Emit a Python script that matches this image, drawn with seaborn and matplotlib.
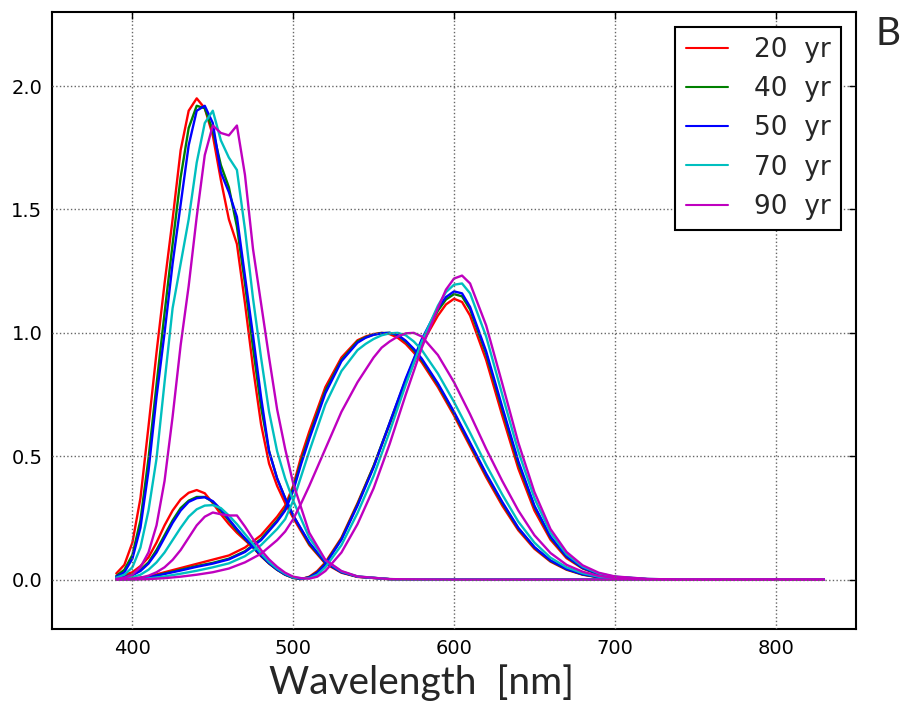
import numpy as np
import pandas as pd
import matplotlib
matplotlib.use("Agg")
import matplotlib.pyplot as plt
from matplotlib.lines import Line2D
import seaborn as sns

# -----------------------------------------------
# Data: colour matching functions, one set per age
# -----------------------------------------------
ages = ["20  yr", "40  yr", "50  yr", "70  yr", "90  yr"]
colors = ["#ff0000", "#008000", "#0000ff", "#00bfbf", "#bf00bf"]

# z-bar (large short-wave peak)
wl_z = [390, 395, 400, 405, 410, 415, 420, 425, 430, 435, 440, 445, 450, 455, 460,
        465, 470, 475, 480, 485, 490, 495, 500, 510, 520, 530, 540, 560, 600, 830]
z_20 = [0.025, 0.06, 0.15, 0.33, 0.62, 0.92, 1.2, 1.46, 1.74, 1.9, 1.95, 1.91, 1.8, 1.62, 1.46,
        1.36, 1.12, 0.86, 0.63, 0.47, 0.38, 0.31, 0.25, 0.14, 0.065, 0.028, 0.011, 0.002, 0, 0]
z_40 = [0.015, 0.04, 0.1, 0.24, 0.49, 0.79, 1.08, 1.36, 1.63, 1.83, 1.92, 1.91, 1.82, 1.68, 1.59,
        1.43, 1.2, 0.94, 0.7, 0.52, 0.41, 0.33, 0.26, 0.145, 0.068, 0.03, 0.012, 0.002, 0, 0]
z_50 = [0.012, 0.03, 0.085, 0.21, 0.44, 0.74, 1.0, 1.28, 1.52, 1.76, 1.9, 1.92, 1.85, 1.65, 1.57,
        1.47, 1.23, 0.99, 0.74, 0.52, 0.41, 0.33, 0.26, 0.15, 0.07, 0.03, 0.012, 0.002, 0, 0]
z_70 = [0.008, 0.02, 0.05, 0.13, 0.28, 0.49, 0.8, 1.1, 1.28, 1.46, 1.69, 1.85, 1.9, 1.78, 1.71,
        1.66, 1.42, 1.14, 0.9, 0.68, 0.52, 0.41, 0.32, 0.17, 0.078, 0.033, 0.013, 0.002, 0, 0]
z_90 = [0.003, 0.008, 0.02, 0.05, 0.11, 0.22, 0.4, 0.66, 0.95, 1.19, 1.47, 1.72, 1.84, 1.81, 1.8,
        1.84, 1.64, 1.34, 1.12, 0.9, 0.69, 0.53, 0.39, 0.19, 0.08, 0.035, 0.013, 0.002, 0, 0]

# x-bar (small short-wave lobe + long-wave lobe)
wl_x = [390, 400, 405, 410, 415, 420, 425, 430, 435, 440, 445, 450, 455, 460, 465, 470,
        475, 480, 485, 490, 495, 500, 505, 510, 515, 520, 530, 540, 550, 560, 570, 580,
        590, 595, 600, 605, 610, 620, 630, 640, 650, 660, 670, 680, 690, 700, 720, 740, 830]
x_20 = [0.008, 0.03, 0.055, 0.09, 0.15, 0.22, 0.28, 0.325, 0.352, 0.363, 0.35, 0.31, 0.265, 0.225, 0.19, 0.16,
        0.13, 0.095, 0.065, 0.04, 0.02, 0.007, 0.002, 0.012, 0.035, 0.07, 0.17, 0.31, 0.46, 0.63, 0.8, 0.955,
        1.07, 1.115, 1.138, 1.125, 1.07, 0.89, 0.665, 0.45, 0.28, 0.162, 0.087, 0.045, 0.021, 0.01, 0.002, 0, 0]
x_40 = [0.005, 0.02, 0.04, 0.07, 0.12, 0.18, 0.24, 0.29, 0.32, 0.335, 0.335, 0.315, 0.28, 0.24, 0.2, 0.165,
        0.132, 0.097, 0.066, 0.04, 0.02, 0.007, 0.003, 0.01, 0.03, 0.065, 0.165, 0.305, 0.46, 0.635, 0.81, 0.97,
        1.09, 1.135, 1.157, 1.148, 1.095, 0.915, 0.69, 0.47, 0.295, 0.17, 0.092, 0.047, 0.022, 0.011, 0.002, 0, 0]
x_50 = [0.004, 0.018, 0.035, 0.065, 0.11, 0.17, 0.23, 0.28, 0.315, 0.33, 0.334, 0.318, 0.285, 0.245, 0.205, 0.168,
        0.134, 0.098, 0.067, 0.041, 0.021, 0.008, 0.003, 0.009, 0.028, 0.062, 0.162, 0.3, 0.455, 0.635, 0.815, 0.975,
        1.1, 1.145, 1.168, 1.16, 1.105, 0.925, 0.7, 0.48, 0.3, 0.174, 0.094, 0.048, 0.023, 0.011, 0.002, 0, 0]
x_70 = [0.002, 0.01, 0.02, 0.04, 0.07, 0.11, 0.16, 0.21, 0.255, 0.285, 0.3, 0.302, 0.29, 0.26, 0.225, 0.185,
        0.145, 0.106, 0.072, 0.045, 0.024, 0.009, 0.005, 0.006, 0.02, 0.05, 0.14, 0.27, 0.42, 0.6, 0.79, 0.965,
        1.11, 1.165, 1.195, 1.2, 1.16, 0.985, 0.75, 0.52, 0.33, 0.19, 0.103, 0.053, 0.025, 0.012, 0.003, 0, 0]
x_90 = [0.001, 0.004, 0.008, 0.016, 0.03, 0.05, 0.08, 0.12, 0.17, 0.22, 0.255, 0.272, 0.265, 0.26, 0.26, 0.215,
        0.165, 0.12, 0.082, 0.052, 0.028, 0.012, 0.006, 0.004, 0.012, 0.035, 0.11, 0.225, 0.37, 0.55, 0.75, 0.94,
        1.1, 1.175, 1.22, 1.232, 1.2, 1.03, 0.795, 0.555, 0.355, 0.205, 0.112, 0.058, 0.028, 0.013, 0.003, 0, 0]

# y-bar (luminosity, peak 1.0)
wl_y = [390, 400, 410, 420, 430, 440, 450, 460, 470, 480, 490, 495, 500, 505, 510, 520, 530,
        540, 545, 550, 555, 560, 565, 570, 575, 580, 590, 600, 610, 620, 630, 640, 650, 660,
        670, 680, 690, 700, 720, 740, 830]
y_20 = [0.001, 0.004, 0.012, 0.03, 0.047, 0.064, 0.081, 0.098, 0.13, 0.18, 0.255, 0.3, 0.38, 0.5, 0.6, 0.78, 0.9,
        0.97, 0.985, 0.995, 1.0, 0.995, 0.98, 0.955, 0.92, 0.88, 0.78, 0.665, 0.54, 0.415, 0.3, 0.2, 0.125, 0.073,
        0.04, 0.02, 0.009, 0.004, 0.001, 0, 0]
y_40 = [0.001, 0.003, 0.01, 0.025, 0.04, 0.055, 0.068, 0.085, 0.115, 0.165, 0.24, 0.285, 0.37, 0.48, 0.58, 0.765, 0.89,
        0.965, 0.982, 0.993, 0.999, 1.0, 0.99, 0.965, 0.93, 0.89, 0.79, 0.675, 0.55, 0.425, 0.31, 0.207, 0.13, 0.076,
        0.042, 0.021, 0.01, 0.004, 0.001, 0, 0]
y_50 = [0.001, 0.003, 0.009, 0.023, 0.037, 0.052, 0.065, 0.082, 0.112, 0.16, 0.235, 0.28, 0.36, 0.47, 0.57, 0.755, 0.885,
        0.96, 0.98, 0.992, 0.998, 1.0, 0.992, 0.968, 0.935, 0.895, 0.795, 0.68, 0.555, 0.43, 0.315, 0.21, 0.132, 0.078,
        0.043, 0.022, 0.01, 0.005, 0.001, 0, 0]
y_70 = [0.0, 0.001, 0.005, 0.013, 0.024, 0.036, 0.05, 0.066, 0.095, 0.14, 0.205, 0.245, 0.32, 0.42, 0.52, 0.71, 0.845,
        0.93, 0.955, 0.975, 0.99, 0.998, 1.0, 0.99, 0.965, 0.93, 0.835, 0.72, 0.595, 0.465, 0.345, 0.235, 0.15, 0.089,
        0.05, 0.026, 0.012, 0.006, 0.001, 0, 0]
y_90 = [0.0, 0.0, 0.002, 0.006, 0.012, 0.02, 0.03, 0.045, 0.07, 0.105, 0.16, 0.195, 0.245, 0.31, 0.38, 0.53, 0.68,
        0.8, 0.85, 0.9, 0.94, 0.965, 0.985, 0.998, 1.0, 0.985, 0.91, 0.8, 0.67, 0.53, 0.4, 0.28, 0.18, 0.108,
        0.06, 0.032, 0.015, 0.007, 0.002, 0, 0]

z_all = [z_20, z_40, z_50, z_70, z_90]
x_all = [x_20, x_40, x_50, x_70, x_90]
y_all = [y_20, y_40, y_50, y_70, y_90]

# long table for seaborn
rows = []
for age, zs, xs, ys in zip(ages, z_all, x_all, y_all):
    for name, wl, vals in (("x", wl_x, xs), ("y", wl_y, ys), ("z", wl_z, zs)):
        for w, v in zip(wl, vals):
            rows.append((age, name, w, v))
df = pd.DataFrame(rows, columns=["age", "func", "wavelength", "value"])

# -----------------------------------------------
# Plot
# -----------------------------------------------
sns.set_theme(style="white")
plt.rcParams["font.family"] = ["DejaVu Sans"]

fig = plt.figure(figsize=(9.04, 7.24), dpi=100)
ax = fig.add_axes([52 / 904, 1 - 629 / 724, (856 - 52) / 904, (629 - 12) / 724])

sns.lineplot(data=df, x="wavelength", y="value", hue="age", units="func",
             estimator=None, sort=False, palette=colors, hue_order=ages,
             linewidth=1.7, legend=False, ax=ax)

ax.set_xlim(350, 850)
ax.set_ylim(-0.2, 2.3)
ax.set_xticks([400, 500, 600, 700, 800])
ax.set_yticks([0.0, 0.5, 1.0, 1.5, 2.0])
ax.set_yticklabels(["0.0", "0.5", "1.0", "1.5", "2.0"])
ax.set_xlabel("")
ax.set_ylabel("")

# grid drawn on top of the curves, dotted
ax.grid(True, color="0.4", linestyle=":", linewidth=1.0)
ax.set_axisbelow(False)
for sp in ax.spines.values():
    sp.set_color("black")
    sp.set_linewidth(1.5)
ax.tick_params(direction="in", top=True, right=True, length=5, width=1,
               color="black", labelsize=14, labelcolor="black", pad=7)

handles = [Line2D([0], [0], color=c, lw=1.5) for c in colors]
leg = ax.legend(handles, ages, loc="upper right", fontsize=19, frameon=True,
                fancybox=False, edgecolor="black", framealpha=1,
                handlelength=1.6, handletextpad=1.0, labelspacing=0.5,
                borderpad=0.4, borderaxespad=0.55)
leg.get_frame().set_linewidth(1.5)

fig.text(422 / 904, 1 - 683 / 724, "Wavelength  [nm]", ha="center", va="center",
         fontsize=28, family=["Lato", "DejaVu Sans"])
fig.text(888 / 904, 1 - 34 / 724, "B", ha="center", va="center",
         fontsize=28, family=["Lato", "DejaVu Sans"])

fig.savefig("out.png", dpi=100)
